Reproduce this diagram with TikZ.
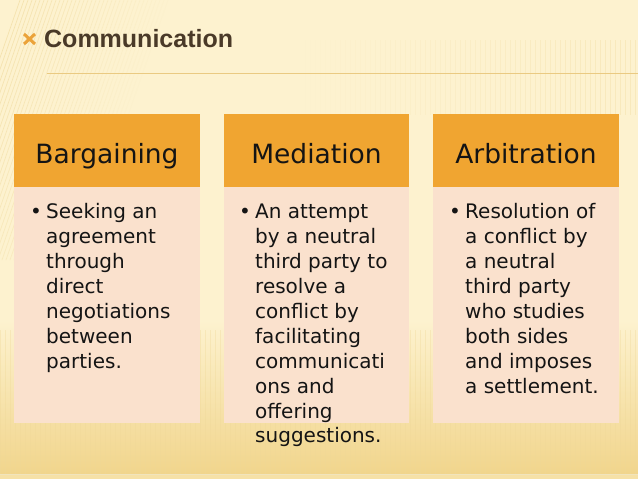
\documentclass[tikz,border=0pt]{standalone}
\usepackage{fontspec}
\setmainfont{DejaVu Sans}
\newfontfamily\titlefont{Liberation Sans}
\definecolor{bgtop}{HTML}{FDF2CF}
\definecolor{bgbot}{HTML}{F1D58C}
\definecolor{stripecol}{HTML}{EFD898}
\definecolor{hdrfill}{HTML}{F0A531}
\definecolor{bodyfill}{HTML}{FAE1CD}
\definecolor{txtcol}{HTML}{141414}
\definecolor{titlecol}{HTML}{4A3A28}
\definecolor{xmarkcol}{HTML}{EBA33A}
\definecolor{divcol}{HTML}{EACA82}
\tikzset{
  hdrbox/.style={rectangle, fill=hdrfill, draw=none, minimum width=186pt, minimum height=73pt, inner sep=0pt},
  bodybox/.style={rectangle, fill=bodyfill, draw=none, minimum width=186pt, minimum height=236pt, inner sep=0pt},
  hdrtext/.style={anchor=base, inner sep=0pt, text=txtcol, font=\fontsize{26.5}{30}\selectfont},
  bodytext/.style={anchor=base west, inner sep=0pt, text=txtcol, font=\fontsize{20}{25}\selectfont},
  bulletmark/.style={anchor=base west, inner sep=0pt, text=txtcol, font=\fontsize{20}{25}\selectfont},
  stripe/.style={draw=stripecol, line width=0.7pt},
}
\newcommand{\bodylines}[1]{\begin{tabular}[t]{@{}l@{}}#1\end{tabular}}
\begin{document}
\begin{tikzpicture}[x=1pt,y=-1pt]
\useasboundingbox (0,0) rectangle (638,479);
% background
\fill[bgtop] (0,0) rectangle (638,479);
\shade[top color=bgtop, bottom color=bgbot] (0,320) rectangle (638,474);
\fill[bgbot!60!bgtop] (0,474) rectangle (638,479);
\draw[draw=bgbot!80!black!20!bgtop, line width=0.8pt] (0,474.5) -- (638,474.5);
% diagonal stripes top-left
\foreach \i in {0,4,...,150} {
  \pgfmathsetmacro{\op}{0.6*(1-\i/160)}
  \draw[stripe, opacity=\op] (\i+20,0) -- (\i-70,260);
}
% vertical stripes (faint)
\foreach \i in {300,305,...,638} {
  \pgfmathsetmacro{\op}{0.35*(\i-300)/338}
  \draw[stripe, opacity=\op] (\i,40) -- (\i,115);
}
\foreach \i in {0,5,...,638} {
  \draw[stripe, opacity=0.35] (\i,330) -- (\i,474);
}
% title
\draw[xmarkcol, line width=3pt] (24,34) -- (35,44) (35,34) -- (24,44);
\node[anchor=base west, inner sep=0pt, text=titlecol, font=\titlefont\bfseries\fontsize{25}{30}\selectfont] (title) at (44,47) {Communication};
\coordinate (divL) at (47,73);
\coordinate (divR) at (638,73);
\draw[divcol, line width=0.9pt] (divL) -- (divR);
% columns
\node[hdrbox] (h1) at (107,150.5) {};
\node[hdrbox, minimum width=185pt] (h2) at (316.5,150.5) {};
\node[hdrbox] (h3) at (526,150.5) {};
\node[bodybox] (b1) at (107,305) {};
\node[bodybox, minimum width=185pt] (b2) at (316.5,305) {};
\node[bodybox] (b3) at (526,305) {};
\node[hdrtext] (ht1) at (107,163) {Bargaining};
\node[hdrtext] (ht2) at (316.5,163) {Mediation};
\node[hdrtext] (ht3) at (526,163) {Arbitration};
\node[bulletmark] (bu1) at (30,218) {•};
\node[bulletmark] (bu2) at (239,218) {•};
\node[bulletmark] (bu3) at (449,218) {•};
\node[bodytext] (bt1) at (46,218) {\bodylines{Seeking an\\agreement\\through\\direct\\negotiations\\between\\parties.}};
\node[bodytext] (bt2) at (255,218) {\bodylines{An attempt\\by a neutral\\third party to\\resolve a\\conflict by\\facilitating\\communicati\\ons and\\offering\\suggestions.}};
\node[bodytext] (bt3) at (465,218) {\bodylines{Resolution of\\a conflict by\\a neutral\\third party\\who studies\\both sides\\and imposes\\a settlement.}};
\end{tikzpicture}
\end{document}
